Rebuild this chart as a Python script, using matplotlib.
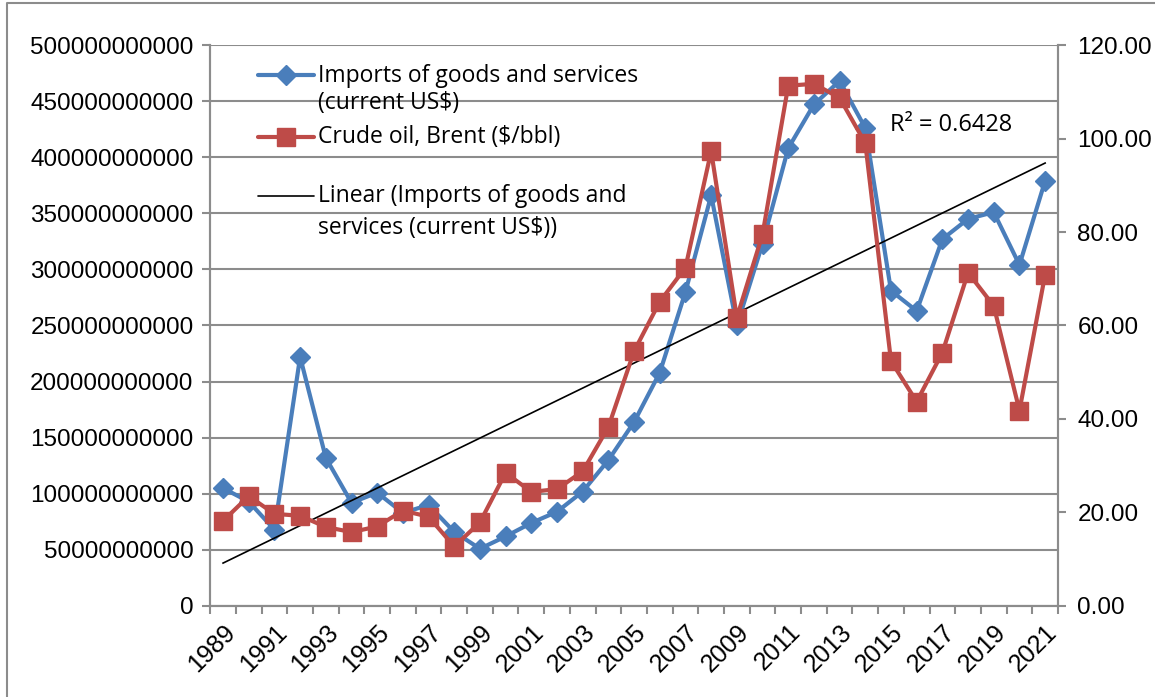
import numpy as np
import matplotlib
matplotlib.use("Agg")
import matplotlib.pyplot as plt
from matplotlib.lines import Line2D

years = list(range(1989, 2022))
imports_usd = [105e9, 93e9, 68e9, 222e9, 132e9, 92e9, 101e9, 83e9, 90e9, 66e9,
               51e9, 62e9, 74e9, 84e9, 102e9, 130e9, 164e9, 208e9, 280e9, 366e9,
               250e9, 323e9, 408e9, 447e9, 468e9, 426e9, 281e9, 263e9, 327e9, 345e9,
               351e9, 304e9, 379e9]
brent = [18.2, 23.5, 19.7, 19.3, 16.9, 15.8, 17.0, 20.4, 19.1, 12.7,
         17.9, 28.5, 24.4, 25.0, 28.8, 38.3, 54.5, 65.1, 72.4, 97.3,
         61.7, 79.5, 111.3, 111.7, 108.7, 99.0, 52.4, 43.7, 54.2, 71.3,
         64.2, 41.8, 70.9]
label_years = list(range(1989, 2022, 2))

BLUE = "#4A7EBB"
RED = "#BE4B48"
GRID = "#8C8C8C"
TICKFONT = ["Liberation Sans", "DejaVu Sans"]
TEXTFONT = ["Open Sans", "DejaVu Sans"]
W, H = 1155, 697


def px(x, y):
    # pixel position -> figure fraction
    return x / W, 1 - y / H


def main():
    fig = plt.figure(figsize=(W / 100, H / 100), dpi=100)
    ax = fig.add_axes([0.182, 0.1306, 0.734, 0.8048])
    ax2 = ax.twinx()

    x = np.array(years)
    ax.plot(x, imports_usd, color=BLUE, lw=3, marker="D", ms=10, zorder=3)
    coef = np.polyfit(x, imports_usd, 1)
    ax.plot(x, np.polyval(coef, x), color="black", lw=1.2, zorder=4)
    ax2.plot(x, brent, color=RED, lw=3, marker="s", ms=13, zorder=3)

    ax.set_xlim(1988.5, 2021.5)
    ax.set_ylim(0, 500e9)
    ax2.set_ylim(0, 120)
    lticks = np.arange(0, 500e9 + 1, 50e9)
    ax.set_yticks(lticks)
    ax.set_yticklabels([f"{int(v)}" for v in lticks], family=TICKFONT, fontsize=17.5)
    rticks = np.arange(0, 121, 20)
    ax2.set_yticks(rticks)
    ax2.set_yticklabels([f"{v:.2f}" for v in rticks], family=TICKFONT, fontsize=17.5)
    ax.grid(axis="y", color=GRID, lw=1.5)
    ax.set_axisbelow(True)

    ax.set_xticks(label_years)
    ax.set_xticklabels([str(y) for y in label_years], rotation=45, ha="right",
                       rotation_mode="anchor", family=TICKFONT, fontsize=18)
    ax.set_xticks(np.arange(1988.5, 2022, 1), minor=True)
    ax.tick_params(axis="x", which="major", length=0, pad=10)
    ax.tick_params(axis="x", which="minor", length=6, color=GRID, width=1.5)
    ax.tick_params(axis="y", length=6, color=GRID, width=1.5, pad=6)
    ax2.tick_params(axis="y", length=6, color=GRID, width=1.5, pad=8)
    for a in (ax, ax2):
        a.spines["top"].set_visible(False)
        for s in ("left", "right", "bottom"):
            a.spines[s].set_color(GRID)
            a.spines[s].set_linewidth(1.5)

    # legend drawn by hand, Excel style (marker lines up with first text line)
    def handle(y, color, lw, marker=None, ms=0):
        x0, yy = px(258, y)
        x1, _ = px(314, y)
        fig.add_artist(Line2D([x0, x1], [yy, yy], transform=fig.transFigure,
                              color=color, lw=lw, solid_capstyle="round"))
        if marker:
            fig.add_artist(Line2D([(x0 + x1) / 2], [yy], transform=fig.transFigure,
                                  ls="none", marker=marker, ms=ms, color=color))

    def label(y, s):
        fig.text(*px(318, y), s, family=TEXTFONT, fontsize=16.5, va="center")

    handle(75, BLUE, 3, "D", 10)
    label(76, "Imports of goods and services")
    label(103, "(current US$)")
    handle(137, RED, 3, "s", 13)
    label(137, "Crude oil, Brent ($/bbl)")
    handle(196, "black", 1.2)
    label(196, "Linear (Imports of goods and")
    label(228, "services (current US$))")

    fig.text(*px(890, 125), "R² = 0.6428", family=TEXTFONT, fontsize=17, va="center")

    # chart area border (left and top only visible)
    fig.add_artist(Line2D([7 / W, 7 / W, 1], [0, 1 - 3 / H, 1 - 3 / H],
                          transform=fig.transFigure, color=GRID, lw=1.5))
    fig.savefig("out.png", dpi=100)
    plt.close(fig)


if __name__ == "__main__":
    main()
